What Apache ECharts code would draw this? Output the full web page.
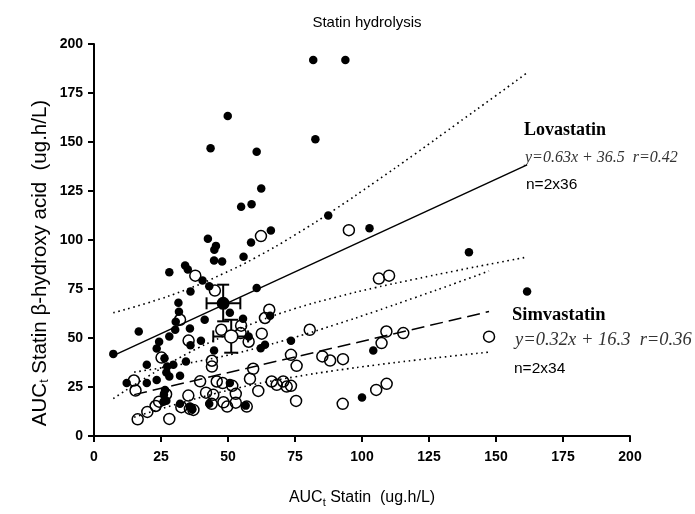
<!DOCTYPE html>
<html><head><meta charset="utf-8">
<script src="https://cdn.jsdelivr.net/npm/echarts@6/dist/echarts.min.js"></script>
<style>html,body{margin:0;padding:0;background:#fff}#c{width:695px;height:514px}</style>
</head><body><div id="c"></div>
<script>
// ---- data ----
const titleText = 'Statin hydrolysis';
const xTicks = [0, 25, 50, 75, 100, 125, 150, 175, 200];
const yTicks = [0, 25, 50, 75, 100, 125, 150, 175, 200];

// Lovastatin (filled dots)
const lovastatin = [
  [81.8,191.8],[93.8,191.8],[49.9,163.3],[82.6,151.4],[43.5,146.8],[60.7,145],[62.4,126.3],
  [54.9,117],[58.8,118.2],[87.4,112.5],[102.8,106],[66,104.9],[42.5,100.6],[45.5,97],
  [44.9,95],[58.6,98.7],[55.8,91.5],[44.8,89.5],[47.8,89],[139.9,93.8],[28.1,83.5],
  [34,87],[35,85],[40.5,79.3],[43,76.4],[36,73.7],[60.7,75.5],[161.6,73.7],[31.5,68],
  [31.7,63.4],[50.7,62.9],[65.7,61.4],[55.6,59.8],[41.3,59.3],[30.5,58.3],[30.3,54.2],
  [35.8,54.9],[16.7,53.3],[28.1,50.8],[57.7,50.8],[39.9,48.6],[73.5,48.6],[24.3,48.1],
  [36,46.3],[63.8,46.5],[62.2,44.8],[23.4,44.7],[44.8,43.6],[104.2,43.6],[7.2,41.9],
  [26.3,39.7],[34.3,38],[19.7,36.3],[29.6,36.3],[27.3,35.4],[27,32.4],[32.1,30.8],
  [28.1,30.3],[23.4,28.6],[12.2,27],[19.7,27],[50.7,27],[26.1,21.1],[100,19.6],[27,18],
  [32.1,16.4],[43,16.4],[56.6,15.5],[36.7,13.6],[25.9,17.5],[35.8,15],[26.5,23.5]
];
// Simvastatin (open circles)
const simvastatin = [
  [62.3,102],[95.1,105],[37.8,81.8],[45.1,74.2],[106.3,80.3],[110.1,81.8],[32.1,59.3],
  [65.4,64.4],[63.8,60.2],[47.5,54.2],[54.9,56.3],[54.7,52.5],[57.7,48.1],[62.6,52.2],
  [35.3,48.7],[80.5,54.2],[109.1,53.3],[115.4,52.5],[107.3,47.4],[147.4,50.7],[25.2,40],
  [44,38.4],[44,35.4],[59.4,34.3],[58.2,29.2],[73.5,41.4],[75.6,35.8],[85.2,40.6],
  [88.1,38.5],[92.9,39.2],[14.9,28.3],[15.5,23.2],[39.6,27.9],[45.8,27.8],[48,27],
  [51.6,25.6],[52.9,21.5],[61.3,23],[41.8,22.1],[44.5,21],[35.2,20.6],[26.9,21.3],
  [24.3,17.5],[23,15.3],[19.9,12.3],[16.3,8.5],[28.1,8.7],[32.6,14.7],[35.8,13.8],
  [37.1,13.3],[43.9,16.4],[48.3,17.2],[49.7,15],[52.9,17],[57,15],[70.6,27.8],
  [68.2,26.1],[66.3,27.8],[71.9,25.2],[73.5,25.6],[75.4,17.9],[92.8,16.4],[105.3,23.5],
  [109.2,26.6]
];
// mean markers with error bars: [x, y, xLow, xHigh, yLow, yHigh]
const lovaMean = [[48.2, 67.7, 42.0, 54.6, 58.5, 77.2]];
const simvaMean = [[51.2, 50.8, 44.5, 57.5, 42.5, 59.3]];

// regression lines (end points)
const lovaFit = [[7.2, 41.0], [161.6, 138.3]];
const simvaFit = [[15, 21.1], [147.4, 63.5]];

// confidence bands (dotted)
const lovaBandX = [7.2, 20, 35, 48, 60, 75, 90, 105, 120, 135, 150, 161.6];
const lovaUpper = [62.9, 67.9, 75.0, 82.7, 90.8, 102.6, 115.7, 129.7, 144.1, 158.9, 173.7, 185.3];
const lovaLower = [19.1, 30.3, 42.2, 50.7, 57.8, 65.0, 70.7, 75.7, 80.1, 84.3, 88.3, 91.3];
const simvaBandX = [15, 30, 45, 52, 60, 75, 90, 105, 120, 135, 147.4];
const simvaUpper = [32.6, 35.9, 39.8, 41.9, 44.6, 50.4, 56.8, 63.6, 70.7, 78.0, 84.2];
const simvaLower = [9.6, 15.9, 21.6, 23.9, 26.4, 30.2, 33.4, 36.2, 38.7, 41.0, 42.8];

// ---- chart ----
const pair = (xs, ys) => xs.map((x, i) => [x, ys[i]]);
const chart = echarts.init(document.getElementById('c'), null, {renderer: 'canvas'});
const FONT = 'Liberation Sans, Arial, sans-serif';
const SERIF = 'Liberation Serif, Times New Roman, serif';

function errorBarItem(filled) {
  return function (params, api) {
    const x = api.value(0), y = api.value(1);
    const c = api.coord([x, y]);
    const xl = api.coord([api.value(2), y]), xh = api.coord([api.value(3), y]);
    const yl = api.coord([x, api.value(4)]), yh = api.coord([x, api.value(5)]);
    const st = {stroke: '#000', lineWidth: 2};
    const capV = 6, capH = filled ? 6 : 7;
    return {
      type: 'group',
      children: [
        {type: 'line', shape: {x1: xl[0], y1: c[1], x2: xh[0], y2: c[1]}, style: st},
        {type: 'line', shape: {x1: xl[0], y1: c[1] - capV, x2: xl[0], y2: c[1] + capV}, style: st},
        {type: 'line', shape: {x1: xh[0], y1: c[1] - capV, x2: xh[0], y2: c[1] + capV}, style: st},
        {type: 'line', shape: {x1: c[0], y1: yl[1], x2: c[0], y2: yh[1]}, style: st},
        {type: 'line', shape: {x1: c[0] - capH, y1: yl[1], x2: c[0] + capH, y2: yl[1]}, style: st},
        {type: 'line', shape: {x1: c[0] - capH, y1: yh[1], x2: c[0] + capH, y2: yh[1]}, style: st},
        {type: 'circle', shape: {cx: c[0], cy: c[1], r: 6.5},
          style: filled ? {fill: '#000'} : {fill: '#fff', stroke: '#000', lineWidth: 1.5}}
      ]
    };
  };
}

const dotted = {color: '#000', width: 1.6, type: [1.6, 3.6]};
const nameRich = {
  a: {fontFamily: FONT, fontSize: 16, color: '#000'},
  s: {fontFamily: FONT, fontSize: 11, color: '#000', verticalAlign: 'bottom', padding: [9, 0, 0, 0]}
};
const yNameRich = {
  a: {fontFamily: FONT, fontSize: 20.5, color: '#000'},
  s: {fontFamily: FONT, fontSize: 12.5, color: '#000', verticalAlign: 'bottom', padding: [10, 0, 0, 0]}
};

chart.setOption({
  animation: false,
  backgroundColor: '#fff',
  title: {
    text: titleText, left: 362, top: 10, textAlign: 'center',
    textStyle: {fontFamily: FONT, fontSize: 15, fontWeight: 'normal', color: '#000'}
  },
  grid: {left: 94, right: 65, top: 44, bottom: 78, containLabel: false},
  xAxis: {
    type: 'value', min: 0, max: 200, interval: 25,
    name: '{a|AUC}{s|t}{a| Statin  (ug.h/L)}', nameLocation: 'middle', nameGap: 52,
    nameTextStyle: {rich: nameRich},
    axisLine: {onZero: false, lineStyle: {color: '#000', width: 2}},
    axisTick: {length: 6, lineStyle: {color: '#000', width: 2}},
    axisLabel: {fontFamily: FONT, fontSize: 14, fontWeight: 'bold', color: '#000', margin: 14,
                formatter: v => xTicks.includes(v) ? String(v) : ''},
    splitLine: {show: false}
  },
  yAxis: {
    type: 'value', min: 0, max: 200, interval: 25,
    axisLine: {onZero: false, lineStyle: {color: '#000', width: 2}},
    axisTick: {length: 6, lineStyle: {color: '#000', width: 2}},
    axisLabel: {fontFamily: FONT, fontSize: 14, fontWeight: 'bold', color: '#000', margin: 11,
                formatter: v => yTicks.includes(v) ? String(v) : ''},
    splitLine: {show: false}
  },
  series: [
    {type: 'line', data: pair(lovaBandX, lovaUpper), smooth: true, showSymbol: false, lineStyle: dotted, silent: true},
    {type: 'line', data: pair(lovaBandX, lovaLower), smooth: true, showSymbol: false, lineStyle: dotted, silent: true},
    {type: 'line', data: pair(simvaBandX, simvaUpper), smooth: true, showSymbol: false, lineStyle: dotted, silent: true},
    {type: 'line', data: pair(simvaBandX, simvaLower), smooth: true, showSymbol: false, lineStyle: dotted, silent: true},
    {type: 'line', data: lovaFit, showSymbol: false, lineStyle: {color: '#000', width: 1.5}, silent: true},
    {type: 'line', data: simvaFit, showSymbol: false, lineStyle: {color: '#000', width: 1.5, type: [13, 6]}, silent: true},
    {type: 'scatter', data: simvastatin, symbol: 'circle', symbolSize: 11,
     itemStyle: {color: 'rgba(255,255,255,0)', borderColor: '#000', borderWidth: 1.5, opacity: 1}},
    {type: 'scatter', data: lovastatin, symbol: 'circle', symbolSize: 8.5, itemStyle: {color: '#000', opacity: 1}},
    {type: 'custom', data: lovaMean, renderItem: errorBarItem(true), z: 5},
    {type: 'custom', data: simvaMean, renderItem: errorBarItem(false), z: 5}
  ],
  graphic: [
    {type: 'text', x: 40, y: 263, rotation: Math.PI / 2,
     style: {text: '{a|AUC}{s|t}{a| Statin β-hydroxy acid  (ug.h/L)}', rich: yNameRich, align: 'center', verticalAlign: 'middle'}},
    {type: 'text', x: 524, y: 130, style: {text: 'Lovastatin', font: 'bold 18px ' + SERIF, fill: '#000', verticalAlign: 'middle'}},
    {type: 'text', x: 525, y: 158, style: {text: 'y=0.63x + 36.5  r=0.42', font: 'italic 16px ' + SERIF, fill: '#333', verticalAlign: 'middle'}},
    {type: 'text', x: 526, y: 185, style: {text: 'n=2x36', font: '15.5px ' + FONT, fill: '#000', verticalAlign: 'middle'}},
    {type: 'text', x: 512, y: 315, style: {text: 'Simvastatin', font: 'bold 18.5px ' + SERIF, fill: '#000', verticalAlign: 'middle'}},
    {type: 'text', x: 515, y: 340, style: {text: 'y=0.32x + 16.3  r=0.36', font: 'italic 18.5px ' + SERIF, fill: '#333', verticalAlign: 'middle'}},
    {type: 'text', x: 514, y: 369, style: {text: 'n=2x34', font: '15.5px ' + FONT, fill: '#000', verticalAlign: 'middle'}}
  ]
});
</script>
</body></html>
